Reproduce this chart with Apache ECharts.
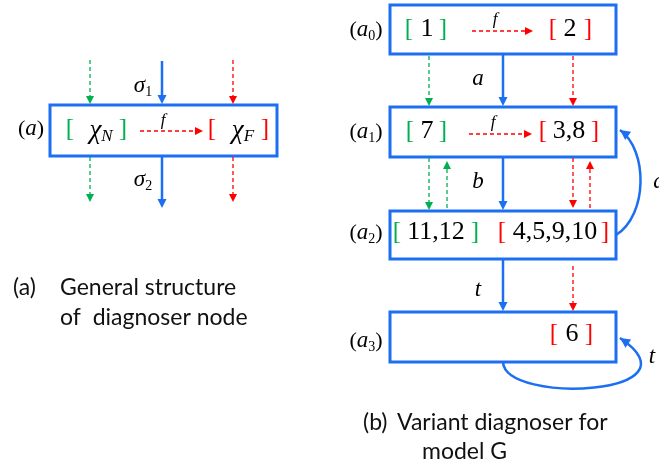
<!DOCTYPE html>
<html><head><meta charset="utf-8">
<script src="https://cdn.jsdelivr.net/npm/echarts@6/dist/echarts.min.js"></script>
<style>html,body{margin:0;padding:0;background:#fff}#c{width:659px;height:468px}</style>
</head><body><div id="c"></div>
<script>
// ---- diagram content ----
const nodeNames = ['{p|(}{i|a}{s|0}{p|)}', '{p|(}{i|a}{s|1}{p|)}', '{p|(}{i|a}{s|2}{p|)}', '{p|(}{i|a}{s|3}{p|)}'];
const normalSets = ['1', '7', '11,12', ''];
const faultSets = ['2', '3,8', '4,5,9,10', '6'];
const edgeLabels = ['a', 'b', 't', 'a', 't'];
const genericNode = { name: '{p|(}{i|a}{p|)}', normal: '{x|χ}{si|N}', fault: '{x|χ}{si|F}', inLabel: '{i|σ}{s|1}', outLabel: '{i|σ}{s|2}' };
const captionA = ['(a)', 'General structure', 'of  diagnoser node'];
const captionB = ['(b)', 'Variant diagnoser for', 'model G'];

// ---- layout (diagram coordinates) ----
const boxes = [[50,105,277,156],[390,5,616,54],[390,107,616,157],[390,211,616,259],[390,312,616,362]];
const arrows = [
  [90,60,90,104,'g'],[90,157,90,202,'g'],[162,61,162,104,'b'],[162,157,162,208,'b'],[233,60,233,104,'r'],[233,157,233,202,'r'],
  [140,131,203,131,'r'],[472,31,533,31,'r'],[469,134,532,134,'r'],
  [429,56,429,106,'g'],[503,55,503,106,'b'],[573,56,573,106,'r'],
  [429,158,429,210,'g'],[447,208,447,161,'g'],[503,158,503,210,'b'],[573,158,573,208,'r'],[590,208,590,161,'r'],
  [503,260,503,311,'b'],[573,266,573,311,'r']
];
const curves = [
  [616,235,648,215,648,150,620,130],
  [503,362,505,405,705,395,620,338]
];
const bracketsPos = [
  // [x, y, char, colorKey]
  [70,129,'[','g'],[123,129,']','g'],[212,129,'[','r'],[265,129,']','r'],
  [409,29,'[','g'],[443,29,']','g'],[553,29,'[','r'],[588,29,']','r'],
  [410,131,'[','g'],[443,131,']','g'],[543,131,'[','r'],[595,131,']','r'],
  [397,232,'[','g'],[475,232,']','g'],[502,232,'[','r'],[605,232,']','r'],
  [554,334,'[','r'],[589,334,']','r']
];
const nodeLabelPos = [[366,30],[366,132],[366,233],[366,341]];
const normalPos = [[427,29],[427,131],[436,232],[0,0]];
const faultPos = [[570,29],[569,131],[555,232],[572,334]];
const fPos = [[163,121],[495,20],[493,123]];
const edgeLabelPos = [[478,79],[478,182],[478,290],[659,182],[652,357]];

const C = { b: '#1C6EF2', g: '#00B050', r: '#FF0000' };
const rich = {
  p: { fontFamily: 'Liberation Serif', fontSize: 22, color: '#222' },
  i: { fontFamily: 'Liberation Serif', fontStyle: 'italic', fontSize: 23, color: '#222' },
  x: { fontFamily: 'Liberation Serif', fontStyle: 'italic', fontSize: 27, color: '#222' },
  s: { fontFamily: 'Liberation Serif', fontSize: 14, color: '#222', verticalAlign: 'bottom', padding: [12, 0, 0, 0] },
  si: { fontFamily: 'Liberation Serif', fontStyle: 'italic', fontSize: 17, color: '#222', verticalAlign: 'bottom', padding: [12, 0, 0, 0] },
  d: { fontFamily: 'Liberation Serif', fontSize: 26, color: '#1a1a1a' },
  f: { fontFamily: 'Liberation Serif', fontStyle: 'italic', fontSize: 17, color: '#FF0000' }
};

// text items: [x, y, richText, align]
const texts = [];
texts.push([31,129,genericNode.name,'center']);
texts.push([101,131,genericNode.normal,'center']);
texts.push([243,131,genericNode.fault,'center']);
texts.push([143,86,genericNode.inLabel,'center']);
texts.push([143,180,genericNode.outLabel,'center']);
fPos.forEach(p => texts.push([p[0],p[1],'{f|f}','center']));
nodeNames.forEach((n,k) => texts.push([nodeLabelPos[k][0],nodeLabelPos[k][1],n,'center']));
normalSets.forEach((n,k) => { if (n) texts.push([normalPos[k][0],normalPos[k][1],'{d|'+n+'}','center']); });
faultSets.forEach((n,k) => texts.push([faultPos[k][0],faultPos[k][1],'{d|'+n+'}','center']));
edgeLabels.forEach((n,k) => texts.push([edgeLabelPos[k][0],edgeLabelPos[k][1],'{i|'+n+'}','center']));

const captions = [
  [13,288,captionA[0]],[60,288,captionA[1]],[60,318,captionA[2]],
  [363,423,captionB[0]],[397,423,captionB[1]],[422,452,captionB[2]]
];

function head(api, x1, y1, x2, y2, len, hw, color) {
  const dx = x2 - x1, dy = y2 - y1, L = Math.hypot(dx, dy), ux = dx / L, uy = dy / L;
  const bx = x2 - ux * len, by = y2 - uy * len;
  return { type: 'polygon', shape: { points: [[x2, y2], [bx - uy * hw, by + ux * hw], [bx + uy * hw, by - ux * hw]] }, style: { fill: color } };
}

const chart = echarts.init(document.getElementById('c'), null, { renderer: 'canvas' });
chart.setOption({
  animation: false,
  backgroundColor: '#fff',
  grid: { left: 0, right: 0, top: 0, bottom: 0 },
  xAxis: { type: 'value', min: 0, max: 659, show: false },
  yAxis: { type: 'value', min: 0, max: 468, inverse: true, show: false },
  series: [
    { type: 'custom', clip: false, data: boxes.map(b => [b[0], b[1]]),
      renderItem: (params, api) => {
        const b = boxes[params.dataIndex];
        const p1 = api.coord([b[0], b[1]]), p2 = api.coord([b[2], b[3]]);
        return { type: 'rect', shape: { x: p1[0], y: p1[1], width: p2[0] - p1[0], height: p2[1] - p1[1] }, style: { fill: '#fff', stroke: C.b, lineWidth: 3 } };
      } },
    { type: 'custom', clip: false, data: arrows.map(a => [a[0], a[1]]),
      renderItem: (params, api) => {
        const a = arrows[params.dataIndex];
        const p1 = api.coord([a[0], a[1]]), p2 = api.coord([a[2], a[3]]);
        const col = C[a[4]], solid = a[4] === 'b';
        const len = solid ? 9 : 8, hw = solid ? 4.5 : 4;
        const L = Math.hypot(p2[0]-p1[0], p2[1]-p1[1]);
        const ex = p2[0] - (p2[0]-p1[0]) / L * (len - 1), ey = p2[1] - (p2[1]-p1[1]) / L * (len - 1);
        return { type: 'group', children: [
          { type: 'line', shape: { x1: p1[0], y1: p1[1], x2: ex, y2: ey }, style: { stroke: col, lineWidth: solid ? 2.5 : 1.3, lineDash: solid ? null : [4, 3] } },
          head(api, p1[0], p1[1], p2[0], p2[1], len, hw, col)
        ] };
      } },
    { type: 'custom', clip: false, data: curves.map(c => [c[0], c[1]]),
      renderItem: (params, api) => {
        const c = curves[params.dataIndex];
        const s = api.coord([c[0], c[1]]), c1 = api.coord([c[2], c[3]]), c2 = api.coord([c[4], c[5]]), e = api.coord([c[6], c[7]]);
        return { type: 'group', children: [
          { type: 'bezierCurve', shape: { x1: s[0], y1: s[1], cpx1: c1[0], cpy1: c1[1], cpx2: c2[0], cpy2: c2[1], x2: e[0], y2: e[1] }, style: { stroke: C.b, lineWidth: 2.5, fill: null } },
          head(api, c2[0], c2[1], e[0], e[1], 10, 5, C.b)
        ] };
      } },
    { type: 'custom', clip: false, data: bracketsPos.map(b => [b[0], b[1]]),
      renderItem: (params, api) => {
        const b = bracketsPos[params.dataIndex];
        const p = api.coord([b[0], b[1]]);
        return { type: 'text', x: p[0], y: p[1], style: { text: b[2], fill: C[b[3]], font: '25px "Liberation Serif"', align: 'center', verticalAlign: 'middle' } };
      } },
    { type: 'custom', clip: false, data: texts.map(t => [t[0], t[1]]),
      renderItem: (params, api) => {
        const t = texts[params.dataIndex];
        const p = api.coord([t[0], t[1]]);
        return { type: 'text', x: p[0], y: p[1], style: { text: t[2], rich: rich, align: t[3], verticalAlign: 'middle' } };
      } },
    { type: 'custom', clip: false, data: captions.map(t => [t[0], t[1]]),
      renderItem: (params, api) => {
        const t = captions[params.dataIndex];
        const p = api.coord([t[0], t[1]]);
        return { type: 'text', x: p[0], y: p[1], style: { text: t[2], fill: '#111', font: '23px Lato', align: 'left', verticalAlign: 'middle' } };
      } }
  ]
});
</script></body></html>
